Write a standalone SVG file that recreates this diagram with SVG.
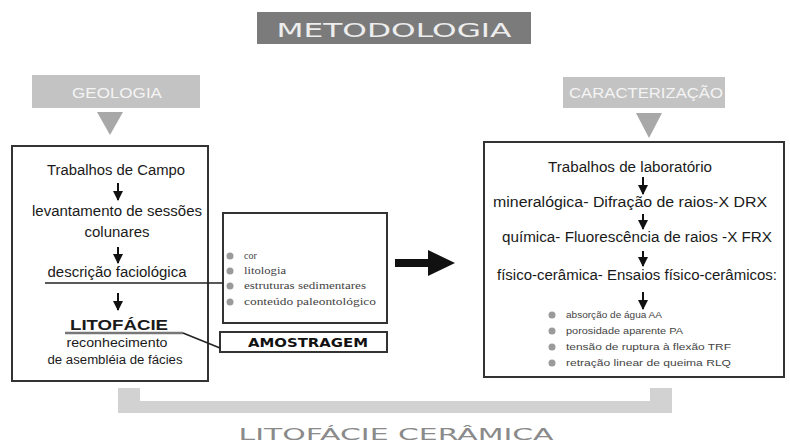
<svg xmlns="http://www.w3.org/2000/svg" width="790" height="446" viewBox="0 0 790 446">
<defs>
<style>
.body{font-family:"Liberation Sans","DejaVu Sans",sans-serif;fill:#1a1a1a;}
.t14{font-size:14px;}
.small{font-family:"Liberation Serif",serif;font-size:10px;fill:#444;}
.bsm{font-family:"Liberation Sans",sans-serif;font-size:9.5px;fill:#444;}
.hdr{font-family:"Liberation Sans",sans-serif;font-size:15px;fill:#f4f4f4;}
.wide{font-family:"DejaVu Sans",sans-serif;}
.box{fill:#fff;stroke:#333;stroke-width:2;}
.arr{stroke:#111;stroke-width:2;fill:none;}
.dot{fill:#9a9a9a;}
</style>
<marker id="ah" markerUnits="userSpaceOnUse" markerWidth="10" markerHeight="10" viewBox="0 0 10 10" refX="9" refY="5" orient="auto">
<path d="M0,0 L10,5 L0,10 Z" fill="#111"/>
</marker>
</defs>
<rect width="790" height="446" fill="#fff"/>

<g id="title">
<rect x="257" y="12" width="274" height="32" fill="#7b7b7b"/>
<text x="394" y="37" class="wide" font-size="19" fill="#ededed" text-anchor="middle" textLength="235" lengthAdjust="spacingAndGlyphs">METODOLOGIA</text>
</g>

<g id="geologia">
<rect x="32" y="75" width="168" height="33" fill="#c3c3c3"/>
<text x="117" y="98" class="hdr" text-anchor="middle" textLength="90" lengthAdjust="spacingAndGlyphs">GEOLOGIA</text>
<path d="M97,112 L123,112 L110,135 Z" fill="#a8a8a8"/>
</g>

<g id="caracterizacao">
<rect x="563" y="77" width="162" height="31" fill="#c3c3c3"/>
<text x="646" y="98" class="hdr" text-anchor="middle" textLength="154" lengthAdjust="spacingAndGlyphs">CARACTERIZAÇÃO</text>
<path d="M636,113 L662,113 L649,138 Z" fill="#a8a8a8"/>
</g>

<g id="campo">
<rect x="12" y="146" width="196" height="235" class="box"/>
<text x="116" y="175" class="body t14" text-anchor="middle" textLength="138" lengthAdjust="spacingAndGlyphs">Trabalhos de Campo</text>
<text x="117" y="216" class="body t14" text-anchor="middle" textLength="170" lengthAdjust="spacingAndGlyphs">levantamento de sessões</text>
<text x="117" y="237" class="body t14" text-anchor="middle" textLength="65" lengthAdjust="spacingAndGlyphs">colunares</text>
<text x="117" y="277" class="body t14" text-anchor="middle" textLength="139" lengthAdjust="spacingAndGlyphs">descrição faciológica</text>
<text x="119" y="330" class="body" font-size="15" font-weight="bold" text-anchor="middle" textLength="98" lengthAdjust="spacingAndGlyphs">LITOFÁCIE</text>
<text x="117" y="347" class="body" font-size="12" fill="#555" text-anchor="middle" textLength="101" lengthAdjust="spacingAndGlyphs">reconhecimento</text>
<text x="115" y="364" class="body" font-size="12.5" fill="#333" text-anchor="middle" textLength="135" lengthAdjust="spacingAndGlyphs">de asembléia de fácies</text>
</g>

<g id="atributos">
<rect x="223" y="213" width="164" height="110" class="box"/>
<circle cx="230" cy="256" r="3.5" class="dot"/>
<circle cx="230" cy="271" r="3.5" class="dot"/>
<circle cx="230" cy="286" r="3.5" class="dot"/>
<circle cx="230" cy="302" r="3.5" class="dot"/>
<text x="244" y="259" class="small">cor</text>
<text x="244" y="274" class="small" textLength="42" lengthAdjust="spacingAndGlyphs">litologia</text>
<text x="244" y="289" class="small" textLength="122" lengthAdjust="spacingAndGlyphs">estruturas sedimentares</text>
<text x="244" y="305" class="small" textLength="132" lengthAdjust="spacingAndGlyphs">conteúdo paleontológico</text>
</g>

<g id="amostragem">
<rect x="220" y="332" width="167" height="20" class="box"/>
<text x="308" y="347" class="wide" font-size="13" font-weight="bold" fill="#111" text-anchor="middle" textLength="120" lengthAdjust="spacingAndGlyphs">AMOSTRAGEM</text>
</g>

<g id="laboratorio">
<rect x="484" y="142" width="300" height="235" class="box"/>
<text x="630" y="172" class="body t14" text-anchor="middle" textLength="164" lengthAdjust="spacingAndGlyphs">Trabalhos de laboratório</text>
<text x="630" y="207" class="body t14" text-anchor="middle" textLength="274" lengthAdjust="spacingAndGlyphs">mineralógica- Difração de raios-X  DRX</text>
<text x="637" y="242" class="body t14" text-anchor="middle" textLength="270" lengthAdjust="spacingAndGlyphs">química- Fluorescência de raios -X FRX</text>
<text x="637" y="280" class="body t14" text-anchor="middle" textLength="280" lengthAdjust="spacingAndGlyphs">físico-cerâmica- Ensaios físico-cerâmicos:</text>
<circle cx="552" cy="315" r="3.5" class="dot"/>
<circle cx="552" cy="331" r="3.5" class="dot"/>
<circle cx="552" cy="347" r="3.5" class="dot"/>
<circle cx="552" cy="363" r="3.5" class="dot"/>
<text x="566" y="318" class="bsm" textLength="96" lengthAdjust="spacingAndGlyphs">absorção de água AA</text>
<text x="566" y="334" class="bsm" textLength="117" lengthAdjust="spacingAndGlyphs">porosidade aparente PA</text>
<text x="566" y="350" class="bsm" textLength="165" lengthAdjust="spacingAndGlyphs">tensão de ruptura à flexão TRF</text>
<text x="566" y="366" class="bsm" textLength="165" lengthAdjust="spacingAndGlyphs">retração linear de queima RLQ</text>
</g>

<g id="litofacie-ceramica">
<path d="M118,388 H140 V401 H650 V388 H672 V413 H118 Z" fill="#d2d2d2"/>
<text x="396" y="440" class="wide" font-size="16" fill="#8a8a8a" text-anchor="middle" textLength="315" lengthAdjust="spacingAndGlyphs">LITOFÁCIE CERÂMICA</text>
</g>

<g id="connectors">
<line x1="118" y1="183" x2="118" y2="200" class="arr" marker-end="url(#ah)"/>
<line x1="118" y1="247" x2="118" y2="263" class="arr" marker-end="url(#ah)"/>
<line x1="118" y1="293" x2="118" y2="310" class="arr" marker-end="url(#ah)"/>
<line x1="643" y1="177" x2="643" y2="194" class="arr" marker-end="url(#ah)"/>
<line x1="643" y1="214" x2="643" y2="229" class="arr" marker-end="url(#ah)"/>
<line x1="643" y1="251" x2="643" y2="266" class="arr" marker-end="url(#ah)"/>
<line x1="643" y1="292" x2="643" y2="309" class="arr" marker-end="url(#ah)"/>
<line x1="45" y1="283" x2="223" y2="283" stroke="#222" stroke-width="1.5"/>
<line x1="65" y1="333" x2="183" y2="333" stroke="#777" stroke-width="2.5"/>
<polyline points="183,333 220,348" fill="none" stroke="#222" stroke-width="1.5"/>
<path d="M395,259 H428 V250 L455,263 L428,276 V267 H395 Z" fill="#111"/>
</g>
</svg>
